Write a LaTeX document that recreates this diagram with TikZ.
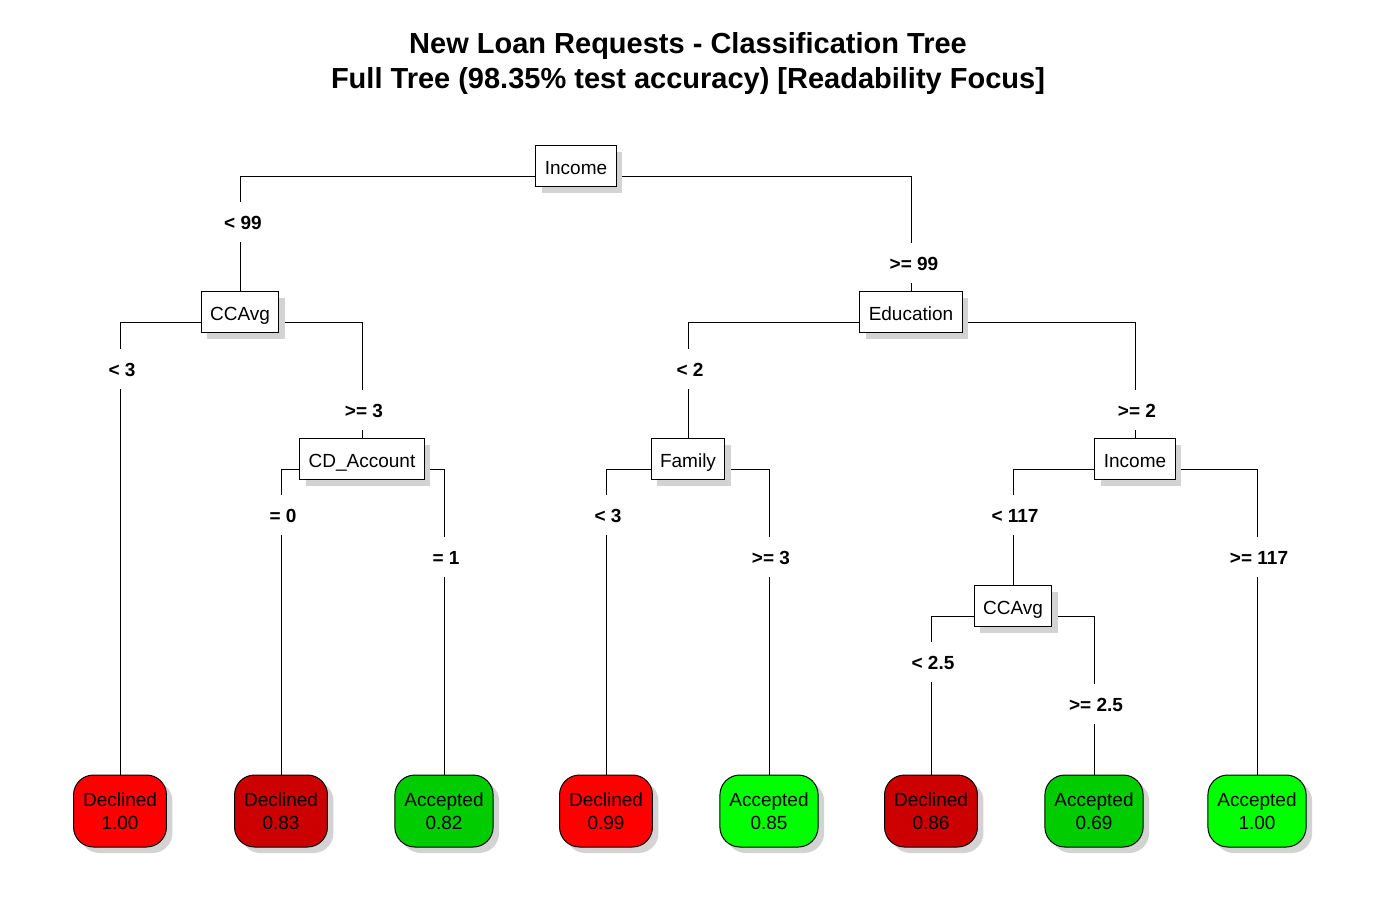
\documentclass[tikz,border=0pt]{standalone}
\usepackage{fontspec}
\setmainfont{Liberation Sans}
\usetikzlibrary{shadows, backgrounds}
\definecolor{declc}{HTML}{FF0000}
\definecolor{decldk}{HTML}{CC0000}
\definecolor{accc}{HTML}{00FF00}
\definecolor{accdk}{HTML}{00CC00}
\definecolor{shadc}{HTML}{D3D3D3}
\tikzset{
  shad/.style={drop shadow={shadow xshift=6pt, shadow yshift=-6pt,
      fill=shadc, opacity=1}},
  split/.style={draw, fill=white, line width=1pt, inner xsep=9pt,
      text height=16pt, text depth=0pt,
      minimum height=41pt, font=\fontsize{19}{23}\selectfont, shad},
  leaf/.style={draw, fill=#1, line width=1pt, rounded corners=20pt,
      align=center, minimum height=72pt, inner xsep=9.5pt,
      font=\fontsize{19}{23}\selectfont, shad},
  cond/.style={fill=white, inner xsep=2pt, inner ysep=13pt,
      text height=14pt, text depth=0pt,
      font=\fontsize{19}{23}\selectfont\bfseries},
  edge/.style={line width=0.9pt}
}
\begin{document}
\begin{tikzpicture}[x=1pt, y=-1pt]
  \useasboundingbox (0,0) rectangle (1378,900);
  \node[font=\fontsize{29}{35}\selectfont\bfseries, align=center] (title)
    at (688,63) {New Loan Requests - Classification Tree\\
      Full Tree (98.35\% test accuracy) [Readability Focus]};
  % split nodes
  \node[split] (root) at (576,166) {Income};
  \node[split] (ccavgA) at (240,312) {CCAvg};
  \node[split] (educ) at (911,312) {Education};
  \node[split] (cdacc) at (362,459) {CD\_Account};
  \node[split] (family) at (688,459) {Family};
  \node[split] (incomeB) at (1135,459) {Income};
  \node[split] (ccavgB) at (1013,606) {CCAvg};
  % leaves
  \foreach \i/\x/\col/\cls/\p in {1/120/declc/Declined/1.00,
      2/281/decldk/Declined/0.83, 3/444/accdk/Accepted/0.82,
      4/606/declc/Declined/0.99, 5/769/accc/Accepted/0.85,
      6/931/decldk/Declined/0.86, 7/1094/accdk/Accepted/0.69,
      8/1257/accc/Accepted/1.00}
    \node[leaf=\col] (leaf\i) at (\x,811) {\cls\\\p};
  % branches
  \begin{pgfonlayer}{background}
    \foreach \a/\b in {root/ccavgA, root/educ, ccavgA/leaf1, ccavgA/cdacc,
        cdacc/leaf2, cdacc/leaf3, educ/family, educ/incomeB,
        family/leaf4, family/leaf5, incomeB/ccavgB, incomeB/leaf8,
        ccavgB/leaf6, ccavgB/leaf7}
      \draw[edge] ([yshift=-10pt]\a.center) -| (\b.north);
  \end{pgfonlayer}
  % split conditions
  \node[cond] (c1) at (243,222) {< 99};
  \node[cond] (c2) at (914,263) {>= 99};
  \node[cond] (c3) at (122,369) {< 3};
  \node[cond] (c4) at (364,410) {>= 3};
  \node[cond] (c5) at (690,369) {< 2};
  \node[cond] (c6) at (1137,410) {>= 2};
  \node[cond] (c7) at (283,515) {= 0};
  \node[cond] (c8) at (446,557) {= 1};
  \node[cond] (c9) at (608,515) {< 3};
  \node[cond] (c10) at (771,557) {>= 3};
  \node[cond] (c11) at (1015,515) {< 117};
  \node[cond] (c12) at (1259,557) {>= 117};
  \node[cond] (c13) at (933,662) {< 2.5};
  \node[cond] (c14) at (1096,704) {>= 2.5};
\end{tikzpicture}
\end{document}
